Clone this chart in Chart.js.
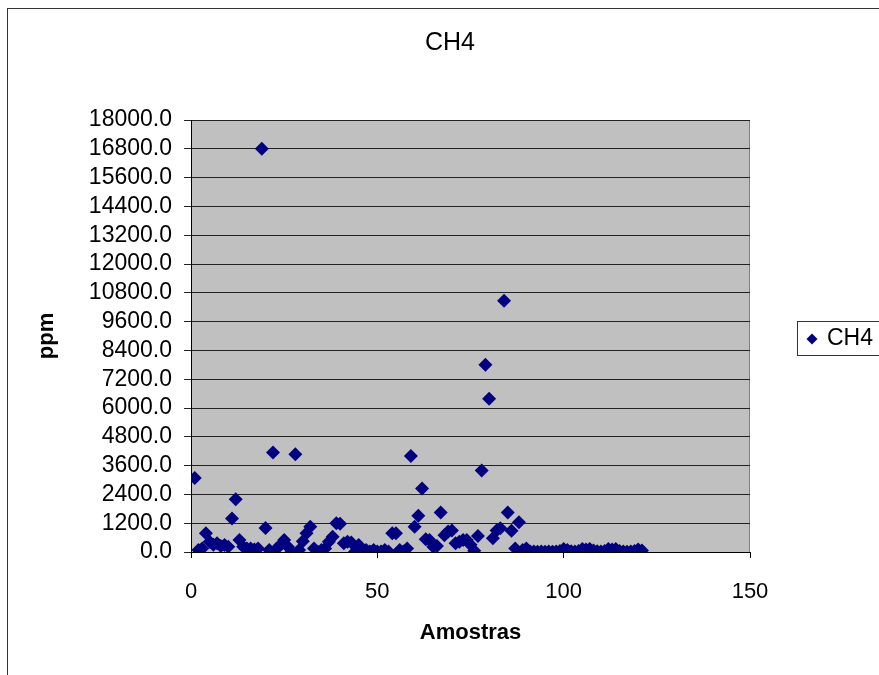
<!DOCTYPE html>
<html>
<head>
<meta charset="utf-8">
<title>CH4</title>
<script src="https://cdn.jsdelivr.net/npm/chart.js@4.4.1/dist/chart.umd.min.js"></script>
<style>
  html, body { margin: 0; padding: 0; background: #fff; overflow: hidden; }
  #chart { display: block; }
</style>
</head>
<body>
<canvas id="chart" width="879" height="675"></canvas>
<script>
// amostras 1..121, CH4 em ppm
const amostras = [];
for (let i = 1; i <= 121; i++) amostras.push(i);

const ch4 = [
  3080, 80, 150, 780, 430, 300, 360, 250, 290, 220,
  1400, 2200, 500, 220, 150, 150, 100, 150, 16800, 1000,
  80, 4150, 150, 290, 500, 220, 10, 4070, 80, 450,
  780, 1055, 150, 10, 80, 150, 430, 640, 1200, 1180,
  360, 430, 400, 10, 290, 80, 80, 20, 80, 20,
  20, 80, 20, 780, 780, 80, 20, 150, 4000, 1055,
  1510, 2650, 530, 500, 220, 250, 1650, 700, 850, 900,
  360, 430, 500, 500, 300, 50, 670, 3400, 7800, 6390,
  570, 900, 985, 10470, 1650, 890, 150, 1240, 80, 150,
  20, 20, 10, 20, 10, 20, 10, 20, 40, 120,
  80, 30, 20, 40, 120, 100, 120, 60, 30, 20,
  40, 120, 100, 120, 40, 20, 10, 20, 40, 100,
  60
];

const seriesName = 'CH4';
const chartTitle = 'CH4';
const xTitle = 'Amostras';
const yTitle = 'ppm';

const points = amostras.map((x, i) => ({ x: x, y: ch4[i] }));

const fontFamily = "'Liberation Sans', Arial, sans-serif";

// fundo cinza da área do gráfico, moldura externa, título e legenda com caixa
const excelLook = {
  id: 'excelLook',
  beforeDraw(chart) {
    const { ctx, chartArea: a } = chart;
    ctx.save();
    ctx.fillStyle = '#c0c0c0';
    ctx.fillRect(a.left, a.top, a.right - a.left, a.bottom - a.top);
    ctx.strokeStyle = '#808080';
    ctx.lineWidth = 1;
    ctx.beginPath();
    ctx.moveTo(a.left, a.top + 0.5);
    ctx.lineTo(a.right - 0.5, a.top + 0.5);
    ctx.lineTo(a.right - 0.5, a.bottom);
    ctx.stroke();
    ctx.restore();
  },
  afterDraw(chart) {
    const { ctx } = chart;
    ctx.save();
    ctx.strokeStyle = '#333';
    ctx.lineWidth = 1;
    ctx.strokeRect(7.5, 8.5, 900, 700);

    // título
    ctx.fillStyle = '#000';
    ctx.font = '25px ' + fontFamily;
    ctx.textAlign = 'center';
    ctx.textBaseline = 'middle';
    ctx.fillText(chartTitle, 450, 43);

    // legenda
    ctx.strokeRect(797.5, 321.5, 100, 34);
    ctx.fillStyle = '#000080';
    ctx.beginPath();
    ctx.moveTo(812, 333.5);
    ctx.lineTo(817.5, 339);
    ctx.lineTo(812, 344.5);
    ctx.lineTo(806.5, 339);
    ctx.closePath();
    ctx.fill();
    ctx.fillStyle = '#000';
    ctx.font = '23px ' + fontFamily;
    ctx.textAlign = 'left';
    ctx.fillText(seriesName, 827, 339);
    ctx.restore();
  }
};

new Chart(document.getElementById('chart'), {
  type: 'scatter',
  data: {
    datasets: [{
      label: seriesName,
      data: points,
      pointStyle: 'rectRot',
      pointRadius: 7,
      pointHoverRadius: 7,
      backgroundColor: '#000080',
      borderColor: '#000080',
      borderWidth: 0,
    }],
  },
  options: {
    responsive: false,
    animation: false,
    layout: {
      padding: { left: 8, right: 129, top: 120, bottom: 0 },
    },
    plugins: {
      legend: { display: false },
      tooltip: { enabled: false },
      title: { display: false },
    },
    scales: {
      x: {
        type: 'linear',
        min: 0,
        max: 150,
        afterFit: (scale) => { scale.height = 123; },
        ticks: {
          stepSize: 50,
          autoSkip: false,
          color: '#000',
          padding: 21,
          font: { family: fontFamily, size: 22 },
        },
        grid: {
          drawOnChartArea: false,
          drawTicks: true,
          tickLength: 6,
          color: '#000',
        },
        border: { color: '#000', width: 1 },
        title: {
          display: true,
          text: xTitle,
          color: '#000',
          font: { family: fontFamily, size: 22, weight: 'bold' },
          padding: { top: 0, bottom: 29 },
        },
      },
      y: {
        type: 'linear',
        min: 0,
        max: 18000,
        afterFit: (scale) => { scale.width = 183; },
        ticks: {
          stepSize: 1200,
          autoSkip: false,
          color: '#000',
          padding: 12,
          font: { family: fontFamily, size: 23 },
          callback: (v) => v.toFixed(1),
        },
        grid: {
          color: '#222',
          lineWidth: 1,
          drawTicks: true,
          tickLength: 7,
        },
        border: { color: '#000', width: 1 },
        title: {
          display: true,
          text: yTitle,
          color: '#000',
          font: { family: fontFamily, size: 22, weight: 'bold' },
          padding: { top: 25.8, bottom: 0 },
        },
      },
    },
  },
  plugins: [excelLook],
});
</script>
</body>
</html>
